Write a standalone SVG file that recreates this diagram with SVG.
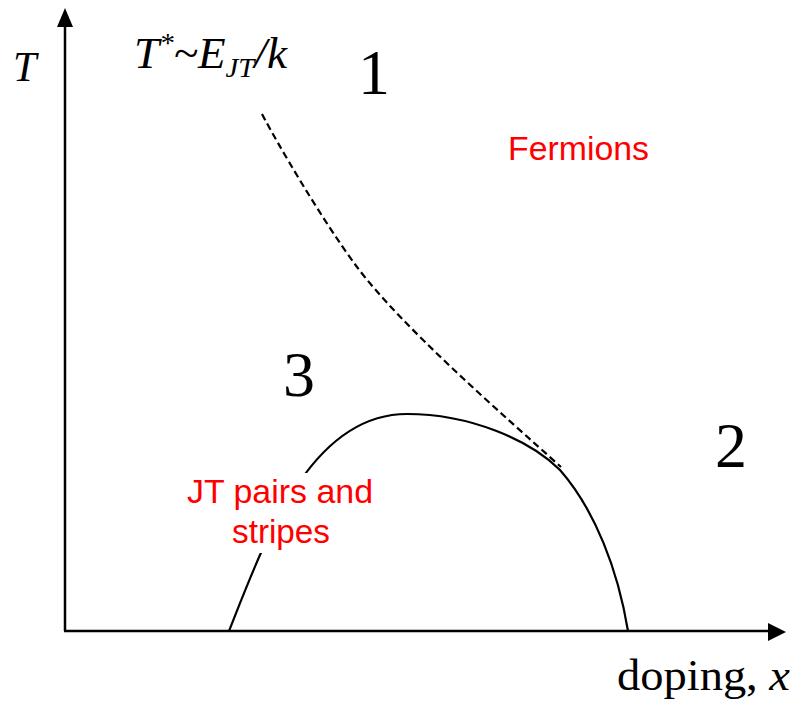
<svg xmlns="http://www.w3.org/2000/svg" width="796" height="706" viewBox="0 0 796 706">
<style>
.ax{stroke:#000;stroke-width:2.5;fill:none}
.ser{font-family:"Liberation Serif","Times New Roman",serif;fill:#000}
.it{font-style:italic}
.red{font-family:"Liberation Sans",Arial,sans-serif;fill:#ff0000;font-size:33.5px}
.curve{stroke:#000;stroke-width:2.2;fill:none}
</style>
<rect width="796" height="706" fill="#fff"/>
<g id="axes">
<line class="ax" x1="65" y1="631" x2="65" y2="26"/>
<polygon points="65,8 57,27 73,27" fill="#000"/>
<line class="ax" x1="64" y1="631" x2="769" y2="631"/>
<polygon points="786,632 768,623 768,641" fill="#000"/>
</g>
<g id="connectors">
<path id="dome" class="curve" d="M229,631 C265,540 310,414 407,414 C470,414 530,440 560,470 C595,510 618,570 628,631"/>
<path id="tstar" class="curve" stroke-dasharray="7,4" stroke-width="1.8" d="M262,114 C276,141 322,220 357,267 C402,327 501,413 561,467"/>
</g>
<g id="labels">
<text class="ser it" x="13" y="81" font-size="42">T</text>
<text class="ser it" x="134" y="68" font-size="44" textLength="153" lengthAdjust="spacingAndGlyphs">T<tspan font-size="28" dy="-16">*</tspan><tspan dy="16">~E</tspan><tspan font-size="28" dy="9">JT</tspan><tspan dy="-9">/k</tspan></text>
<text class="ser" x="358" y="94" font-size="64">1</text>
<text class="ser" x="283" y="396" font-size="64">3</text>
<text class="ser" x="715" y="467" font-size="64">2</text>
<text class="ser" x="617" y="690" font-size="44" textLength="173" lengthAdjust="spacingAndGlyphs">doping, <tspan font-style="italic">x</tspan></text>
</g>
<g id="fermions">
<text class="red" x="508" y="160" textLength="141" lengthAdjust="spacingAndGlyphs">Fermions</text>
</g>
<g id="jt">
<rect x="180" y="473" width="200" height="80" fill="#fff"/>
<text class="red" x="187" y="503" textLength="186" lengthAdjust="spacingAndGlyphs">JT pairs and</text>
<text class="red" x="232" y="543" textLength="98" lengthAdjust="spacingAndGlyphs">stripes</text>
</g>
</svg>
